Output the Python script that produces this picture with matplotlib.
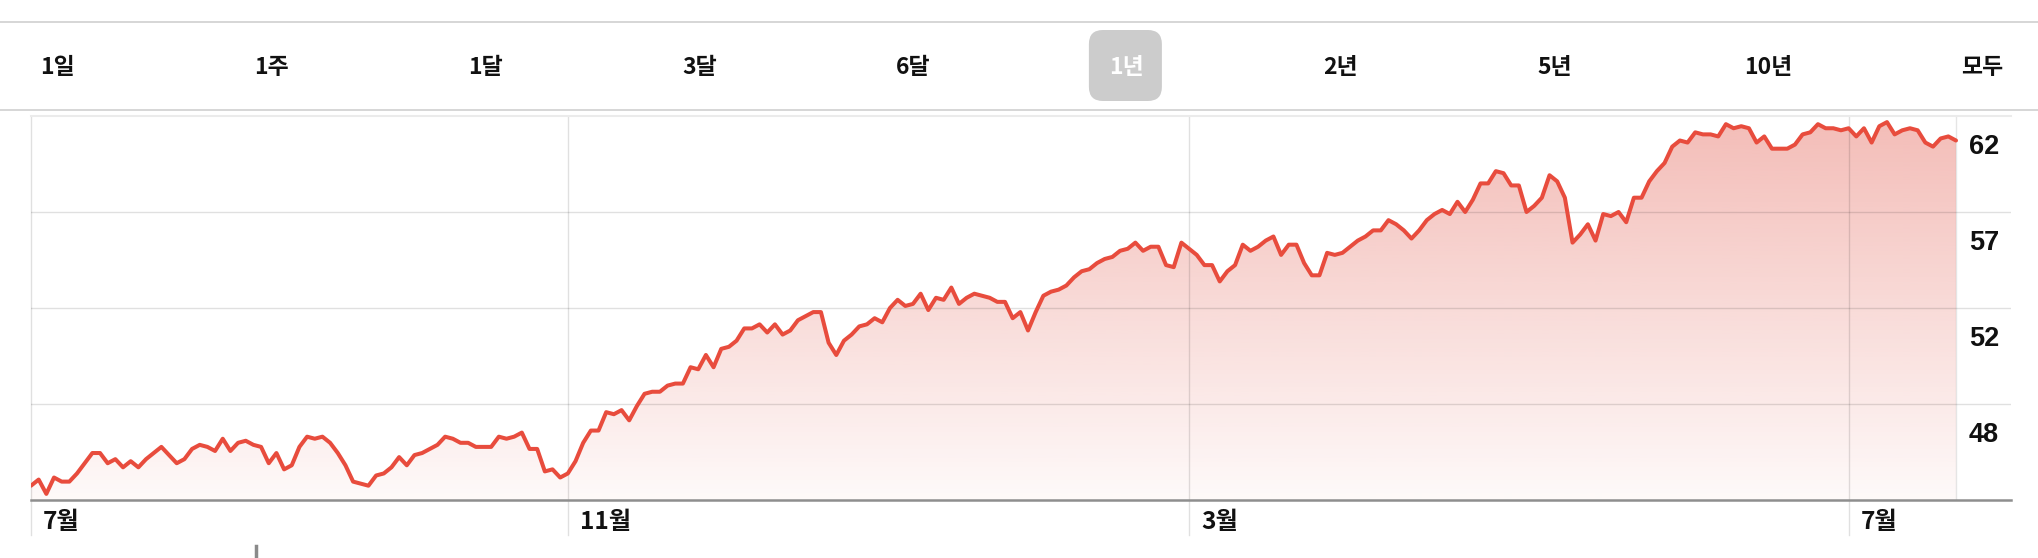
import numpy as np
import matplotlib
matplotlib.use("Agg")
import matplotlib.pyplot as plt
import matplotlib.transforms as mtransforms
from matplotlib.patches import FancyBboxPatch, Polygon
from matplotlib.lines import Line2D
from matplotlib.colors import to_rgb

# daily closing prices, one year
close_prices = [
    43.8, 44.1, 43.4, 44.2, 44.0, 44.0, 44.4, 44.9, 45.4, 45.4,
    44.9, 45.1, 44.7, 45.0, 44.7, 45.1, 45.4, 45.7, 45.3, 44.9,
    45.1, 45.6, 45.8, 45.7, 45.5, 46.1, 45.5, 45.9, 46.0, 45.8,
    45.7, 44.9, 45.4, 44.6, 44.8, 45.7, 46.2, 46.1, 46.2, 45.9,
    45.4, 44.8, 44.0, 43.9, 43.8, 44.3, 44.4, 44.7, 45.2, 44.8,
    45.3, 45.4, 45.6, 45.8, 46.2, 46.1, 45.9, 45.9, 45.7, 45.7,
    45.7, 46.2, 46.1, 46.2, 46.4, 45.6, 45.6, 44.5, 44.6, 44.2,
    44.4, 45.0,
    45.9, 46.5, 46.5, 47.4, 47.3, 47.5, 47.0, 47.7, 48.3, 48.4,
    48.4, 48.7, 48.8, 48.8, 49.6, 49.5, 50.2, 49.6, 50.5, 50.6,
    50.9, 51.5, 51.5, 51.7, 51.3, 51.7, 51.2, 51.4, 51.9, 52.1,
    52.3, 52.3, 50.8, 50.2, 50.9, 51.2, 51.6, 51.7, 52.0, 51.8,
    52.5, 52.9, 52.6, 52.7, 53.2, 52.4, 53.0, 52.9, 53.5, 52.7,
    53.0, 53.2, 53.1, 53.0, 52.8, 52.8, 52.0, 52.3, 51.4, 52.3,
    53.1, 53.3, 53.4, 53.6, 54.0,
    54.3, 54.4, 54.7, 54.9, 55.0, 55.3, 55.4, 55.7, 55.3, 55.5,
    55.5, 54.6, 54.5, 55.7, 55.4, 55.1, 54.6, 54.6, 53.8, 54.3,
    54.6, 55.6, 55.3, 55.5, 55.8, 56.0, 55.1, 55.6, 55.6, 54.7,
    54.1, 54.1, 55.2, 55.1, 55.2, 55.5, 55.8, 56.0, 56.3, 56.3,
    56.8, 56.6, 56.3, 55.9, 56.3, 56.8, 57.1, 57.3, 57.1, 57.7,
    57.2, 57.8, 58.6, 58.6, 59.2, 59.1, 58.5, 58.5, 57.2, 57.5,
    57.9, 59.0, 58.7, 57.9, 55.7, 56.1, 56.6, 55.8, 57.1, 57.0,
    57.2, 56.7, 57.9, 57.9, 58.7, 59.2, 59.6, 60.4, 60.7, 60.6,
    61.1, 61.0, 61.0, 60.9, 61.5, 61.3, 61.4, 61.3, 60.6, 60.9,
    60.3, 60.3, 60.3, 60.5, 61.0, 61.1, 61.5, 61.3, 61.3, 61.2,
    61.3, 60.9, 61.3, 60.6, 61.4, 61.6, 61.0, 61.2, 61.3, 61.2,
    60.6, 60.4, 60.8, 60.9, 60.7,
]

month_labels = ["7월", "11월", "3월", "7월"]
month_idx = [0, 70, 151, 237]          # trading-day index where each month starts

ytick_vals = [61.9, 57.2, 52.5, 47.8]
ytick_labels = ["62", "57", "52", "48"]

range_labels = ["1일", "1주", "1달", "3달", "6달", "1년", "2년", "5년", "10년", "모두"]
selected_range = "1년"

line_color = "#e84c3d"
fill_color = "#e04a3c"
kr_font = ["Noto Sans CJK KR", "DejaVu Sans"]

W, H = 2038, 558
fig = plt.figure(figsize=(W / 100, H / 100), dpi=100)
fig.patch.set_facecolor("white")

# plot box in pixels
left, right, top, bottom = 31, 2011, 116, 500
data_right = 1956
ax = fig.add_axes([left / W, 1 - bottom / H, (right - left) / W, (bottom - top) / H])

x = np.arange(len(close_prices))
n_last = x[-1]
px_per_day = (data_right - left) / n_last
ymin, ymax = 43.1, 61.9

# gradient fill under the line
grad = np.linspace(0, 1, 256)[:, None]
rgba = np.zeros((256, 1, 4))
rgba[..., :3] = to_rgb(fill_color)
rgba[..., 3] = 0.03 + 0.34 * grad
im = ax.imshow(rgba, extent=[0, n_last, ymin, ymax], origin="lower",
               aspect="auto", zorder=1, interpolation="bilinear")
verts = [(0, ymin)] + list(zip(x, close_prices)) + [(n_last, ymin)]
clip = Polygon(verts, closed=True, fc="none", ec="none", transform=ax.transData)
ax.add_patch(clip)
im.set_clip_path(clip)

ax.set_xlim(0, n_last + (right - data_right) / px_per_day)
ax.set_ylim(ymin, ymax)

# grid
for v in ytick_vals[1:]:
    ax.axhline(v, color="black", alpha=0.12, lw=1.0, zorder=2)
below = -35 / (bottom - top)
for i in month_idx:
    ax.axvline(i, ymin=below, ymax=1, color="black", alpha=0.12, lw=1.0,
               zorder=2, clip_on=False)
ax.axvline(n_last, color="black", alpha=0.1, lw=1.0, zorder=2)

ax.plot(x, close_prices, color=line_color, lw=2.9, zorder=3,
        solid_joinstyle="round", solid_capstyle="round")

for s in ["left", "right"]:
    ax.spines[s].set_visible(False)
ax.spines["top"].set_color("#ebebeb")
ax.spines["top"].set_linewidth(1.5)
ax.spines["bottom"].set_color("#8e8e8e")
ax.spines["bottom"].set_linewidth(1.8)
ax.set_xticks([])
ax.set_yticks([])

# price labels sit just under their gridline
ylab_tr = mtransforms.offset_copy(ax.get_yaxis_transform(), fig=fig, x=0, y=-31, units="dots")
for v, lab in zip(ytick_vals, ytick_labels):
    ax.text((1984 - left) / (right - left), v, lab, transform=ylab_tr,
            ha="center", va="center", fontsize=19.5, fontweight="bold",
            family=["Liberation Sans", "DejaVu Sans"], color="#111111")

# month labels
xlab_tr = mtransforms.offset_copy(ax.get_xaxis_transform(), fig=fig, x=12, y=-22, units="dots")
for i, lab in zip(month_idx, month_labels):
    ax.text(i, 0, lab, transform=xlab_tr, ha="left", va="center",
            fontsize=17.5, fontweight="bold", family=kr_font, color="#111111")

# range selector bar
for yy in [22, 110]:
    fig.add_artist(Line2D([0, 1], [1 - yy / H] * 2, color="#d3d3d3", lw=1.3,
                          transform=fig.transFigure))

btn_x = np.linspace(58, 1982, len(range_labels))
for bx, lab in zip(btn_x, range_labels):
    col = "#111111"
    if lab == selected_range:
        box = FancyBboxPatch((bx - 38, H - 101), 73, 71,
                             boxstyle="round,pad=0,rounding_size=14",
                             fc="#cccccc", ec="none",
                             transform=mtransforms.IdentityTransform())
        fig.add_artist(box)
        col = "white"
    fig.text(bx / W, 1 - 67 / H, lab, ha="center", va="center", fontsize=16.5,
             fontweight="bold", family=kr_font, color=col)

# little handle peeking at the bottom
fig.add_artist(Line2D([256 / W] * 2, [0, 12 / H], color="#8a8a8a", lw=2.5,
                      transform=fig.transFigure))

fig.savefig("out.png", dpi=100, facecolor="white")
